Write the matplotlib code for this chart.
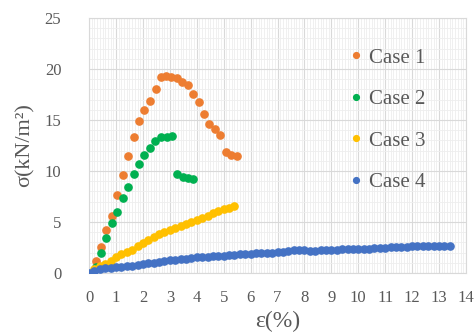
import matplotlib
matplotlib.use("Agg")
import matplotlib.pyplot as plt
import numpy as np
from matplotlib.ticker import MultipleLocator

# strain (%) and stress (kN/m2)
case1_x = [0.25, 0.45, 0.64, 0.84, 1.04, 1.26, 1.44, 1.67, 1.87, 2.05, 2.28, 2.48, 2.67, 2.87,
           3.05, 3.25, 3.45, 3.67, 3.87, 4.07, 4.27, 4.47, 4.67, 4.88, 5.09, 5.28, 5.5]
case1_y = [1.2, 2.5, 4.2, 5.6, 7.6, 9.6, 11.5, 13.3, 14.9, 16.0, 16.9, 18.0, 19.2, 19.3,
           19.2, 19.1, 18.75, 18.4, 17.5, 16.75, 15.6, 14.65, 14.15, 13.5, 11.9, 11.55, 11.45]

case2_x = [0.25, 0.45, 0.64, 0.84, 1.05, 1.27, 1.44, 1.67, 1.86, 2.05, 2.27, 2.46, 2.67, 2.88,
           3.08, 3.26, 3.48, 3.69, 3.87]
case2_y = [0.6, 1.95, 3.45, 4.9, 6.0, 7.4, 8.4, 9.7, 10.7, 11.6, 12.3, 12.9, 13.3, 13.35,
           13.4, 9.75, 9.4, 9.3, 9.2]

case3_x = [0.2, 0.4, 0.6, 0.8, 1.0, 1.2, 1.4, 1.6, 1.8, 2.0, 2.2, 2.4, 2.6, 2.8, 3.0, 3.2,
           3.4, 3.6, 3.8, 4.0, 4.2, 4.4, 4.6, 4.8, 5.0, 5.2, 5.4]
case3_y = [0.4, 0.7, 0.9, 1.2, 1.6, 1.9, 2.1, 2.3, 2.6, 2.9, 3.2, 3.5, 3.8, 4.0, 4.2, 4.4,
           4.6, 4.8, 5.0, 5.2, 5.4, 5.6, 5.9, 6.1, 6.3, 6.4, 6.6]

case4_x = [0.0, 0.2, 0.4, 0.6, 0.8, 1.0, 1.2, 1.4, 1.6, 1.8, 2.0, 2.2, 2.4, 2.6, 2.8, 3.0,
           3.2, 3.4, 3.6, 3.8, 4.0, 4.2, 4.4, 4.6, 4.8, 5.0, 5.2, 5.4, 5.6, 5.8, 6.0, 6.2,
           6.4, 6.6, 6.8, 7.0, 7.2, 7.4, 7.6, 7.8, 8.0, 8.2, 8.4, 8.6, 8.8, 9.0, 9.2, 9.4,
           9.6, 9.8, 10.0, 10.2, 10.4, 10.6, 10.8, 11.0, 11.2, 11.4, 11.6, 11.8, 12.0, 12.2,
           12.4, 12.6, 12.8, 13.0, 13.2, 13.4]
case4_y = [0.0, 0.2, 0.35, 0.45, 0.5, 0.55, 0.6, 0.65, 0.72, 0.8, 0.88, 0.95, 1.02, 1.1, 1.17, 1.25,
           1.3, 1.36, 1.42, 1.48, 1.53, 1.57, 1.6, 1.63, 1.66, 1.7, 1.75, 1.8, 1.85, 1.88, 1.9, 1.92,
           1.94, 1.96, 1.98, 2.02, 2.08, 2.15, 2.22, 2.25, 2.22, 2.2, 2.2, 2.22, 2.25, 2.27, 2.3, 2.32,
           2.33, 2.33, 2.35, 2.37, 2.4, 2.43, 2.46, 2.48, 2.5, 2.53, 2.56, 2.58, 2.6, 2.62,
           2.63, 2.63, 2.62, 2.62, 2.62, 2.62]

labels = ["Case 1", "Case 2", "Case 3", "Case 4"]
colors = ["#ED7D31", "#00B050", "#FFC000", "#4472C4"]

grey = "#595959"
plt.rcParams['font.family'] = ['Liberation Serif', 'DejaVu Serif']

fig = plt.figure(figsize=(4.74, 3.36), dpi=100)
ax = fig.add_axes([0.188, 0.1875, 0.795, 0.759])

series = [(case1_x, case1_y), (case2_x, case2_y), (case3_x, case3_y), (case4_x, case4_y)]
for (xs, ys), lab, c in zip(series, labels, colors):
    ax.plot(xs, ys, linestyle='none', marker='o', markersize=5.2, color=c, label=lab, zorder=3)

ax.set_xlim(0, 14)
ax.set_ylim(0, 25)
ax.xaxis.set_major_locator(MultipleLocator(1))
ax.yaxis.set_major_locator(MultipleLocator(5))
ax.xaxis.set_minor_locator(MultipleLocator(0.1))
ax.yaxis.set_minor_locator(MultipleLocator(1))
ax.grid(which='minor', color='#eeeeee', linewidth=0.6, zorder=0)
ax.grid(which='major', color='#d9d9d9', linewidth=0.8, zorder=1)
ax.set_axisbelow(True)
ax.tick_params(which='both', length=0, labelsize=12, colors=grey)
ax.tick_params(axis='x', pad=12)
ax.tick_params(axis='y', pad=20)
for s in ax.spines.values():
    s.set_color('#d9d9d9')
    s.set_linewidth(0.8)

ax.set_xlabel("ε(%)", fontsize=17, color=grey, labelpad=4)
ax.set_ylabel("σ(kN/m²)", fontsize=16, color=grey, labelpad=7)

leg = ax.legend(loc='upper left', bbox_to_anchor=(0.632, 0.955), frameon=False, fontsize=15,
                labelcolor=grey, handletextpad=0.1, labelspacing=1.05, markerscale=0.8,
                handlelength=1.0)

fig.savefig("out.png", dpi=100)
